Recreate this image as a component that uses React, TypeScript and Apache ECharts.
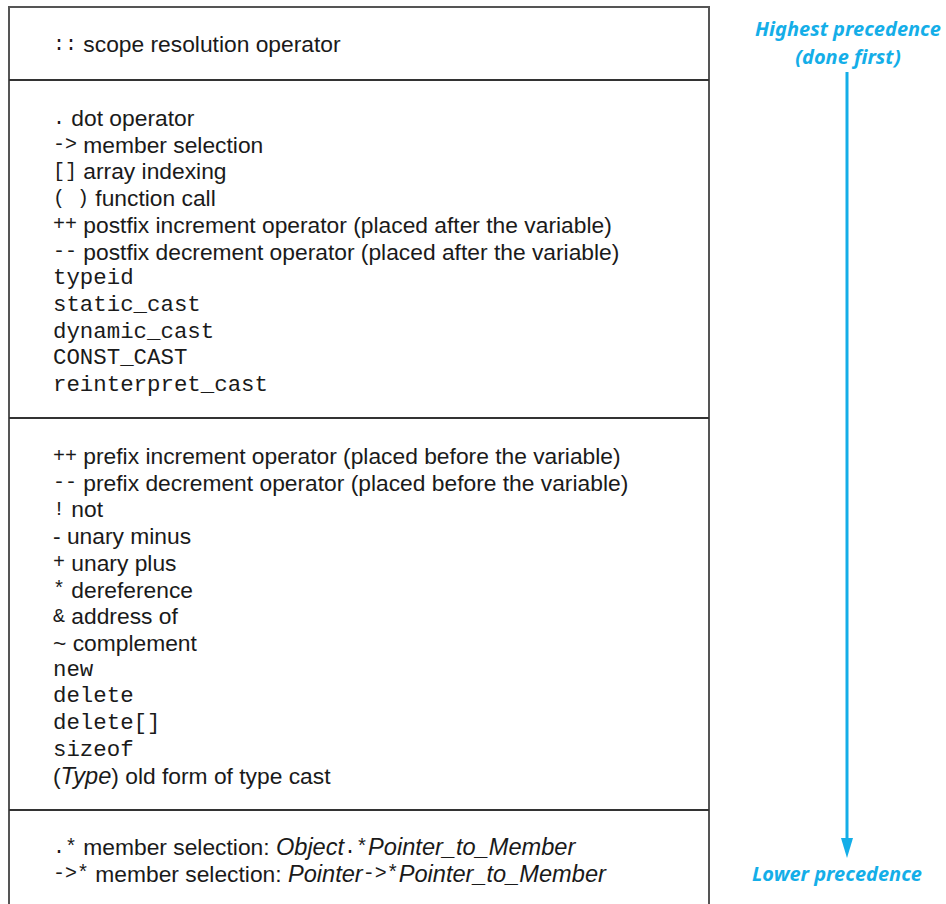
import React, { useEffect, useRef } from "react";
import * as echarts from "echarts";

type Seg = [string, string]; // [style, text]: m = mono operator, c = mono keyword, s = sans, i = italic sans

const section1: Seg[][] = [
  [["m", "::"], ["s", " scope resolution operator"]],
];

const section2: Seg[][] = [
  [["m", "."], ["s", " dot operator"]],
  [["m", "->"], ["s", " member selection"]],
  [["m", "[]"], ["s", " array indexing"]],
  [["m", "( )"], ["s", " function call"]],
  [["m", "++"], ["s", " postfix increment operator (placed after the variable)"]],
  [["m", "--"], ["s", " postfix decrement operator (placed after the variable)"]],
  [["c", "typeid"]],
  [["c", "static_cast"]],
  [["c", "dynamic_cast"]],
  [["c", "CONST_CAST"]],
  [["c", "reinterpret_cast"]],
];

const section3: Seg[][] = [
  [["m", "++"], ["s", " prefix increment operator (placed before the variable)"]],
  [["m", "--"], ["s", " prefix decrement operator (placed before the variable)"]],
  [["m", "!"], ["s", " not"]],
  [["s", "- unary minus"]],
  [["m", "+"], ["s", " unary plus"]],
  [["m", "*"], ["s", " dereference"]],
  [["m", "&"], ["s", " address of"]],
  [["s", "~ complement"]],
  [["c", "new"]],
  [["c", "delete"]],
  [["c", "delete[]"]],
  [["c", "sizeof"]],
  [["s", "("], ["i", "Type"], ["s", ") old form of type cast"]],
];

const section4: Seg[][] = [
  [["m", ".*"], ["s", " member selection: "], ["i", "Object"], ["m", ".*"], ["i", "Pointer_to_Member"]],
  [["m", "->*"], ["s", " member selection: "], ["i", "Pointer"], ["m", "->*"], ["i", "Pointer_to_Member"]],
];

const sections = [section1, section2, section3, section4];
// first-line centres and divider positions (px)
const sectionStartY = [44, 118, 456, 847];
const dividerY = [80, 418, 810];
const topLabel = ["Highest precedence", "(done first)"];
const bottomLabel = "Lower precedence";

const LINE_H = 26.7;
const TEXT_X = 53;
const CYAN = "#14aee8";
const FRAME = "#555555";
const INK = "#1a1a1a";

export default function App() {
  const ref = useRef<HTMLDivElement>(null);
  useEffect(() => {
    if (!ref.current) return;
    const chart = echarts.init(ref.current, undefined, { renderer: "svg" });
    const els: any[] = [];
    // frame
    els.push({ type: "line", shape: { x1: 9, y1: 7, x2: 9, y2: 910 }, style: { stroke: FRAME, lineWidth: 2 } });
    els.push({ type: "line", shape: { x1: 709, y1: 7, x2: 709, y2: 910 }, style: { stroke: FRAME, lineWidth: 2 } });
    els.push({ type: "line", shape: { x1: 8, y1: 7, x2: 710, y2: 7 }, style: { stroke: FRAME, lineWidth: 2 } });
    dividerY.forEach((y) =>
      els.push({ type: "line", shape: { x1: 9, y1: y, x2: 709, y2: y }, style: { stroke: "#333", lineWidth: 2 } })
    );
    const rich = {
      m: { fontFamily: "Liberation Mono", fontSize: 20, fill: INK },
      c: { fontFamily: "Liberation Mono", fontSize: 22.4, fill: INK },
      s: { fontFamily: "Liberation Sans", fontSize: 22.8, fill: INK },
      i: { fontFamily: "Liberation Sans", fontSize: 23.6, fontStyle: "italic", fill: INK },
    };
    sections.forEach((sec, si) => {
      sec.forEach((line, li) => {
        const text = line.map(([st, t]) => `{${st}|${t}}`).join("");
        els.push({
          type: "text",
          x: TEXT_X,
          y: sectionStartY[si] + li * LINE_H,
          style: { text, rich, verticalAlign: "middle", align: "left" },
        });
      });
    });
    // labels
    const lbl = {
      fontFamily: "Noto Sans",
      fontStyle: "italic",
      fontWeight: "bold",
      fontSize: 20,
      fill: CYAN,
      align: "center",
      verticalAlign: "middle",
    };
    els.push({ type: "text", x: 848, y: 28, style: { ...lbl, text: topLabel[0] } });
    els.push({ type: "text", x: 848, y: 56, style: { ...lbl, text: topLabel[1] } });
    els.push({ type: "text", x: 837, y: 873, style: { ...lbl, text: bottomLabel } });
    // arrow
    els.push({ type: "line", shape: { x1: 847, y1: 72, x2: 847, y2: 844 }, style: { stroke: CYAN, lineWidth: 3 } });
    els.push({
      type: "polygon",
      shape: { points: [[841, 838], [853, 838], [847, 858]] },
      style: { fill: CYAN },
    });
    chart.setOption({ animation: false, graphic: { elements: els } });
    return () => chart.dispose();
  }, []);
  return (
    <div
      ref={ref}
      style={{ position: "fixed", left: 0, top: 0, width: 946, height: 904, background: "#fff" }}
    />
  );
}
